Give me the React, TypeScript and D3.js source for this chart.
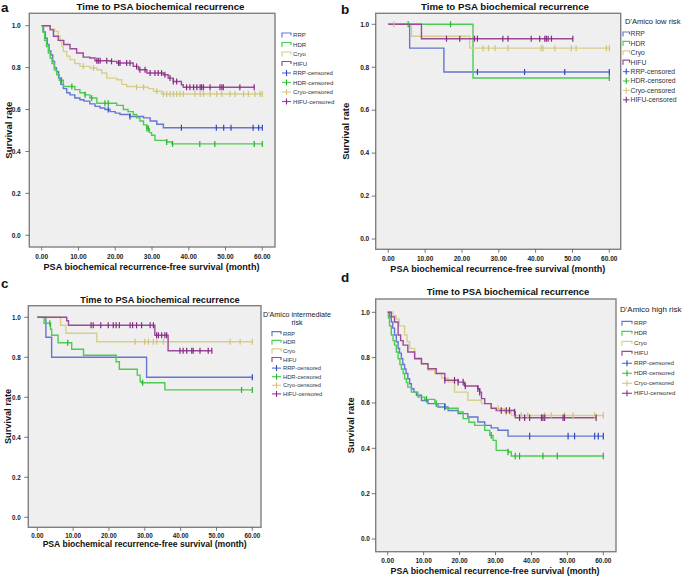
import * as d3 from 'd3'

type Step = [number, number]

// Kaplan-Meier curves: [month, survival from that month on]
const seriesNames = ['RRP', 'HDR', 'Cryo', 'HIFU']
const xTicks = [0, 10, 20, 30, 40, 50, 60]
const yTicks = [0, 0.2, 0.4, 0.6, 0.8, 1.0]

// a: all patients
const aRRP: Step[] = [
	[0, 1], [0.5, 0.97], [1.0, 0.94], [1.5, 0.91], [2.0, 0.88], [2.5, 0.86], [3.0, 0.83], [3.5, 0.8], [4.0, 0.78],
	[4.6, 0.75], [5.2, 0.72], [5.9, 0.7], [6.8, 0.68], [7.7, 0.67], [9.0, 0.655], [10.4, 0.647], [11.5, 0.64],
	[13.1, 0.627], [14.5, 0.615], [15.9, 0.607], [17.2, 0.6], [18.6, 0.59], [20.0, 0.583], [21.3, 0.576],
	[24.0, 0.567], [27.7, 0.56], [29.5, 0.545], [31.3, 0.53], [33.1, 0.513],
]
const aHDR: Step[] = [
	[0, 1], [0.3, 0.97], [0.8, 0.93], [1.3, 0.9], [1.8, 0.87], [2.3, 0.846], [2.8, 0.82], [3.4, 0.79], [4.1, 0.766],
	[4.8, 0.74], [5.9, 0.71], [9.0, 0.695], [10.4, 0.68], [11.8, 0.67], [13.1, 0.655], [15.0, 0.63], [20.4, 0.62],
	[22.2, 0.6], [23.5, 0.59], [24.9, 0.576], [25.8, 0.56], [26.7, 0.545], [27.7, 0.527], [28.6, 0.51], [29.3, 0.49],
	[29.9, 0.477], [30.8, 0.453], [34.0, 0.445], [35.4, 0.436],
]
const aCryo: Step[] = [
	[0, 1], [2.3, 0.985], [3.5, 0.973], [4.5, 0.95], [5.0, 0.925], [5.5, 0.9], [5.9, 0.877], [6.8, 0.855], [7.7, 0.838],
	[9.0, 0.82], [10.4, 0.806], [13.1, 0.798], [15.0, 0.79], [16.3, 0.774], [17.7, 0.75], [20.4, 0.742], [21.8, 0.72],
	[23.1, 0.71], [25.8, 0.706], [29.0, 0.7], [30.4, 0.687], [32.6, 0.674],
]
const aHIFU: Step[] = [
	[0, 1], [2.3, 0.98], [3.2, 0.95], [4.5, 0.93], [6.0, 0.91], [7.7, 0.89], [9.5, 0.87], [11.3, 0.85], [13.1, 0.846],
	[14.5, 0.833], [18.6, 0.83], [20.4, 0.822], [24.9, 0.806], [26.3, 0.79], [28.6, 0.774], [33.1, 0.766], [34.4, 0.75],
	[35.8, 0.734], [38.0, 0.718], [38.5, 0.706],
]
const aEnds = [60, 60, 60, 57.8]
const aRRPCens = [18.1, 24, 38, 47.5, 49.5, 51.5, 57.5, 59, 60]
const aHDRCens = [5.4, 8.2, 11.8, 13.6, 17.2, 18.1, 28.6, 29.0, 34.0, 35.6, 43.0, 47.1, 57.8, 60]
const aCryoCens = [
	11.3, 14.1, 25.8, 27.7, 31.3, 33.1, 34, 34.9, 35.8, 36.7, 37.6, 38.5, 41.7, 43.1, 44, 45.8, 47.6, 49, 51.2, 52.6,
	54.9, 56.2, 58, 59.4, 60,
]
const aHIFUCens = [
	15, 15.4, 15.9, 17.7, 19, 20.9, 21.3, 23.1, 24, 25.8, 26.7, 28.1, 29.5, 30.8, 31.7, 32.6, 33.5, 34.9, 35.8, 36.7,
	39.4, 40.3, 41.3, 42.2, 43.1, 43.5, 44, 45.8, 48.5, 49, 49.4, 53.9, 57.8,
]

// b: D'Amico low risk
const bRRP: Step[] = [[0, 1], [5.8, 0.889], [15.1, 0.778]]
const bHDR: Step[] = [[0, 1], [23, 0.75]]
const bCryo: Step[] = [[0, 1], [6.3, 0.944], [22.1, 0.889]]
const bHIFU: Step[] = [[0, 1], [9, 0.933]]
const bEnds = [60, 60, 60, 50.1]
const bRRPCens = [24.2, 37, 47.9, 60]
const bHDRCens = [5.4, 16.9, 60]
const bCryoCens = [1.5, 25.7, 27.2, 29, 32.5, 41.5, 42, 45.2, 49.7, 51, 59.2, 60]
const bHIFUCens = [15.8, 19.4, 23.4, 24.2, 31.1, 32.5, 38.8, 41.1, 42.5, 42.9, 43.4, 44.3, 50.1]

// c: D'Amico intermediate risk
const cRRP: Step[] = [[0, 1], [2.4, 0.9], [4, 0.8], [30.5, 0.7]]
const cHDR: Step[] = [
	[0, 1], [1.9, 0.97], [3.7, 0.94], [4.0, 0.91], [5.8, 0.873], [9.6, 0.84], [12.9, 0.81], [22, 0.778], [22.9, 0.74],
	[27.9, 0.711], [28.7, 0.678], [29.1, 0.673], [35.6, 0.637],
]
const cCryo: Step[] = [[0, 1], [6.5, 0.96], [8, 0.92], [16.6, 0.878]]
const cHIFU: Step[] = [[0, 1], [8.2, 0.983], [8.7, 0.96], [32.8, 0.91], [36.5, 0.833]]
const cEnds = [60, 60, 60, 48.7]
const cRRPCens = [60]
const cHDRCens = [3.5, 8.5, 29.4, 57, 60]
const cCryoCens = [27.3, 30, 31, 32.4, 33.3, 35.2, 53.8, 56.6, 60]
const cHIFUCens = [
	15, 15.6, 17.7, 19.8, 21.2, 22, 22.9, 25.9, 26.6, 27.7, 29.1, 31.5, 32.4, 33.3, 33.8, 34.7, 35.6, 36.1, 39.8, 40.7,
	41.7, 43.1, 43.5, 45.4, 47.7, 48.7,
]

// d: D'Amico high risk
const dRRP: Step[] = [
	[0, 1], [0.5, 0.98], [1, 0.957], [1.4, 0.93], [1.9, 0.9], [2.4, 0.87], [2.9, 0.84], [3.3, 0.82], [3.8, 0.795],
	[4.2, 0.77], [4.7, 0.75], [5.1, 0.73], [5.6, 0.707], [6.1, 0.685], [6.6, 0.663], [7.3, 0.648], [8, 0.634],
	[9.4, 0.611], [11.2, 0.597], [14, 0.582], [16.8, 0.567], [19.6, 0.553], [22.3, 0.538], [25.1, 0.516], [27, 0.501],
	[28.8, 0.49], [30.7, 0.48], [33.5, 0.454],
]
const dHDR: Step[] = [
	[0, 1], [0.2, 0.975], [0.5, 0.94], [1, 0.9], [1.5, 0.875], [1.9, 0.855], [2.4, 0.825], [2.9, 0.795], [3.4, 0.77],
	[3.8, 0.75], [4.3, 0.73], [4.7, 0.707], [5.2, 0.69], [5.6, 0.67], [6.6, 0.648], [8.4, 0.626], [10.3, 0.616],
	[13.1, 0.597], [15.9, 0.577], [19.6, 0.56], [21, 0.531], [22.6, 0.515], [24.2, 0.501], [27, 0.479], [28.4, 0.457],
	[29.3, 0.435], [30.2, 0.391], [33.5, 0.384], [34.4, 0.366],
]
const dCryo: Step[] = [
	[0, 1], [1.5, 0.985], [2.4, 0.97], [3.2, 0.94], [4.7, 0.9], [5.4, 0.87], [6.1, 0.84], [7.5, 0.8], [9.4, 0.773],
	[11.2, 0.744], [13.1, 0.73], [15, 0.71], [16.8, 0.692], [18.6, 0.648], [22.3, 0.612], [26.1, 0.597], [28.8, 0.575],
	[32.6, 0.56], [34.4, 0.545],
]
const dHIFU: Step[] = [
	[0, 1], [1, 0.98], [1.9, 0.957], [2.9, 0.9], [3.6, 0.875], [4.3, 0.855], [5.6, 0.825], [7.5, 0.795], [9.4, 0.773],
	[11.2, 0.751], [13.5, 0.73], [15.9, 0.7], [19.6, 0.692], [21.4, 0.675], [25.1, 0.663], [25.6, 0.648], [26.1, 0.619],
	[27, 0.597], [28.8, 0.577], [30.2, 0.567], [35.3, 0.56], [35.5, 0.535],
]
const dEnds = [60, 60, 60, 58]
const dRRPCens = [15.9, 39.5, 50.2, 52, 57.6, 58.6, 60]
const dHDRCens = [10.8, 13.5, 28.8, 33.5, 35.5, 36.7, 43.2, 47.2, 60]
const dCryoCens = [30.7, 33, 37.2, 39, 43.7, 45.5, 49.2, 51.6, 57.6, 60]
const dHIFUCens = [
	15.9, 18.6, 19.6, 21, 21.6, 25.1, 25.6, 31.6, 33, 33.9, 35.3, 36.7, 38.1, 39.5, 42.8, 43.2, 43.7, 48.8, 49.2, 58,
]

const lineColors = ['#6476d4', '#4ccd52', '#d8cf8b', '#9a4a99']
const censorColors = ['#2f47c2', '#23b52b', '#cfc478', '#862a84']
const font = '"Liberation Sans", Arial, sans-serif'

interface PanelSpec {
	letter: string
	letterX: number
	letterY: number
	frame: [number, number, number, number]
	xRange: [number, number]
	yRange: [number, number]
	titleX: number
	titleY: number
	titleSize: number
	tickLabelY: number
	tickSize: number
	yLabelGap: number
	xTitleX: number
	xTitleY: number
	xTitleSize: number
	yTitleX: number
	yTitleSize: number
	header: string[]
	headerX: number
	headerY: number
	headerSize: number
	headerAnchor: 'start' | 'middle'
	legGlyphX: number
	legGlyphW: number
	legTextX: number
	legY0: number
	legDy: number
	legSize: number
	cens: number
	steps: Step[][]
	ends: number[]
	censors: number[][]
}

const panels: PanelSpec[] = [
	{
		letter: 'a', letterX: 1, letterY: 11.5, frame: [29.3, 13.3, 275, 247], xRange: [41.7, 262.3], yRange: [235.3, 25.7],
		titleX: 160.5, titleY: 9.8, titleSize: 9.7, tickLabelY: 258.5, tickSize: 6.6, yLabelGap: 8.5,
		xTitleX: 151.5, xTitleY: 269.5, xTitleSize: 9.1, yTitleX: 8.5, yTitleSize: 9.5,
		header: [], headerX: 0, headerY: 0, headerSize: 7, headerAnchor: 'start',
		legGlyphX: 282, legGlyphW: 9, legTextX: 293, legY0: 35, legDy: 9.5, legSize: 6.1, cens: 3,
		steps: [aRRP, aHDR, aCryo, aHIFU], ends: aEnds, censors: [aRRPCens, aHDRCens, aCryoCens, aHIFUCens],
	},
	{
		letter: 'b', letterX: 341, letterY: 13.5, frame: [375.7, 13.3, 620.7, 249.3], xRange: [388.3, 609.3], yRange: [239, 24.3],
		titleX: 505, titleY: 9.8, titleSize: 9.7, tickLabelY: 261, tickSize: 6.6, yLabelGap: 6.4,
		xTitleX: 497.8, xTitleY: 272, xTitleSize: 9.05, yTitleX: 346, yTitleSize: 9.5,
		header: ["D'Amico low risk"], headerX: 625, headerY: 21, headerSize: 7.6, headerAnchor: 'start',
		legGlyphX: 623, legGlyphW: 6.5, legTextX: 630.5, legY0: 34, legDy: 9.4, legSize: 6.8, cens: 3,
		steps: [bRRP, bHDR, bCryo, bHIFU], ends: bEnds, censors: [bRRPCens, bHDRCens, bCryoCens, bHIFUCens],
	},
	{
		letter: 'c', letterX: 1, letterY: 288, frame: [28.3, 305.7, 261, 527.3], xRange: [37.3, 252.3], yRange: [517.3, 317.3],
		titleX: 160, titleY: 302.5, titleSize: 9.2, tickLabelY: 538.2, tickSize: 6.3, yLabelGap: 7.6,
		xTitleX: 144.7, xTitleY: 546.5, xTitleSize: 8.6, yTitleX: 8, yTitleSize: 9.2,
		header: ["D'Amico intermediate", 'risk'], headerX: 297, headerY: 314, headerSize: 7.2, headerAnchor: 'middle',
		legGlyphX: 272, legGlyphW: 9, legTextX: 283, legY0: 333.7, legDy: 8.6, legSize: 5.8, cens: 3,
		steps: [cRRP, cHDR, cCryo, cHIFU], ends: cEnds, censors: [cRRPCens, cHDRCens, cCryoCens, cHIFUCens],
	},
	{
		letter: 'd', letterX: 341, letterY: 282, frame: [375.7, 299, 616, 551.7], xRange: [387.7, 603.3], yRange: [539, 312.3],
		titleX: 508, titleY: 294.5, titleSize: 9.4, tickLabelY: 562.5, tickSize: 6.5, yLabelGap: 5.7,
		xTitleX: 495, xTitleY: 574.3, xTitleSize: 8.8, yTitleX: 351, yTitleSize: 9.3,
		header: ["D'Amico high risk"], headerX: 620, headerY: 309, headerSize: 8, headerAnchor: 'start',
		legGlyphX: 622, legGlyphW: 10, legTextX: 634, legY0: 323.3, legDy: 10, legSize: 6.1, cens: 3.3,
		steps: [dRRP, dHDR, dCryo, dHIFU], ends: dEnds, censors: [dRRPCens, dHDRCens, dCryoCens, dHIFUCens],
	},
]

function survivalAt(steps: Step[], t: number) {
	let s = steps[0][1]
	for (const [tt, ss] of steps) if (tt <= t + 1e-9) s = ss
	return s
}

function Panel({ p }: { p: PanelSpec }) {
	const [left, top, right, bottom] = p.frame
	const x = d3.scaleLinear().domain([0, 60]).range(p.xRange)
	const y = d3.scaleLinear().domain([0, 1]).range(p.yRange)
	const line = d3
		.line<Step>()
		.x((d) => x(d[0]))
		.y((d) => y(d[1]))
		.curve(d3.curveStepAfter)

	return (
		<g fontFamily={font}>
			<text x={p.letterX} y={p.letterY} fontSize={13.5} fontWeight="bold" fill="#111">
				{p.letter}
			</text>
			<text x={p.titleX} y={p.titleY} fontSize={p.titleSize} fontWeight="bold" textAnchor="middle" fill="#111">
				Time to PSA biochemical recurrence
			</text>
			<rect x={left} y={top} width={right - left} height={bottom - top} fill="#efefef" stroke="#808080" strokeWidth={1.4} />

			{yTicks.map((t) => (
				<g key={`y${t}`}>
					<line x1={left - 4} x2={left} y1={y(t)} y2={y(t)} stroke="#555" strokeWidth={0.8} />
					<text x={left - p.yLabelGap} y={y(t)} dy="0.35em" textAnchor="end" fontSize={p.tickSize} fontWeight="bold" fill="#222">
						{t.toFixed(1)}
					</text>
				</g>
			))}
			{xTicks.map((t) => (
				<g key={`x${t}`}>
					<line x1={x(t)} x2={x(t)} y1={bottom} y2={bottom + 3.5} stroke="#555" strokeWidth={0.8} />
					<text x={x(t)} y={p.tickLabelY} textAnchor="middle" fontSize={p.tickSize} fontWeight="bold" fill="#222">
						{t.toFixed(2)}
					</text>
				</g>
			))}
			<text x={p.xTitleX} y={p.xTitleY} textAnchor="middle" fontSize={p.xTitleSize} fontWeight="bold" fill="#111">
				PSA biochemical recurrence-free survival (month)
			</text>
			<text
				transform={`translate(${p.yTitleX}, ${(top + bottom) / 2}) rotate(-90)`}
				dy="0.35em"
				textAnchor="middle"
				fontSize={p.yTitleSize}
				fontWeight="bold"
				fill="#111"
			>
				Survival rate
			</text>

			{p.steps.map((steps, i) => {
				const pts: Step[] = [...steps, [p.ends[i], steps[steps.length - 1][1]]]
				return <path key={`l${i}`} d={line(pts) ?? ''} fill="none" stroke={lineColors[i]} strokeWidth={1.4} />
			})}
			{p.censors.map((times, i) =>
				times.map((t, j) => {
					const cx = x(t)
					const cy = y(survivalAt(p.steps[i], t))
					return (
						<line key={`c${i}-${j}`} x1={cx} x2={cx} y1={cy - p.cens} y2={cy + p.cens} stroke={censorColors[i]} strokeWidth={1.2} />
					)
				}),
			)}

			{p.header.map((h, k) => (
				<text
					key={`h${k}`}
					x={p.headerX}
					y={p.headerY + k * 8.7}
					dy="0.35em"
					textAnchor={p.headerAnchor}
					fontSize={p.headerSize}
					fill="#222"
				>
					{h}
				</text>
			))}
			{seriesNames.map((name, i) => {
				const ly = p.legY0 + i * p.legDy
				const gx = p.legGlyphX
				return (
					<g key={`lg${i}`}>
						<path
							d={`M${gx},${ly + 2.5} V${ly - 2} H${gx + p.legGlyphW} V${ly + 0.5}`}
							fill="none"
							stroke={lineColors[i]}
							strokeWidth={1.2}
						/>
						<text x={p.legTextX} y={ly} dy="0.35em" fontSize={p.legSize} fill="#333">
							{name}
						</text>
					</g>
				)
			})}
			{seriesNames.map((name, i) => {
				const ly = p.legY0 + (i + 4) * p.legDy
				const gx = p.legGlyphX
				return (
					<g key={`lc${i}`}>
						<line x1={gx} x2={gx + p.legGlyphW} y1={ly} y2={ly} stroke={lineColors[i]} strokeWidth={1.2} />
						<line
							x1={gx + p.legGlyphW / 2}
							x2={gx + p.legGlyphW / 2}
							y1={ly - 3}
							y2={ly + 3}
							stroke={censorColors[i]}
							strokeWidth={1.1}
						/>
						<text x={p.legTextX} y={ly} dy="0.35em" fontSize={p.legSize} fill="#333">
							{name}-censored
						</text>
					</g>
				)
			})}
		</g>
	)
}

export default function App() {
	return (
		<svg
			width={685}
			height={576}
			viewBox="0 0 685 576"
			style={{ position: 'absolute', left: 0, top: 0, display: 'block', background: '#fff' }}
		>
			<rect x={0} y={0} width={685} height={576} fill="#fff" />
			{panels.map((p) => (
				<Panel key={p.letter} p={p} />
			))}
		</svg>
	)
}
